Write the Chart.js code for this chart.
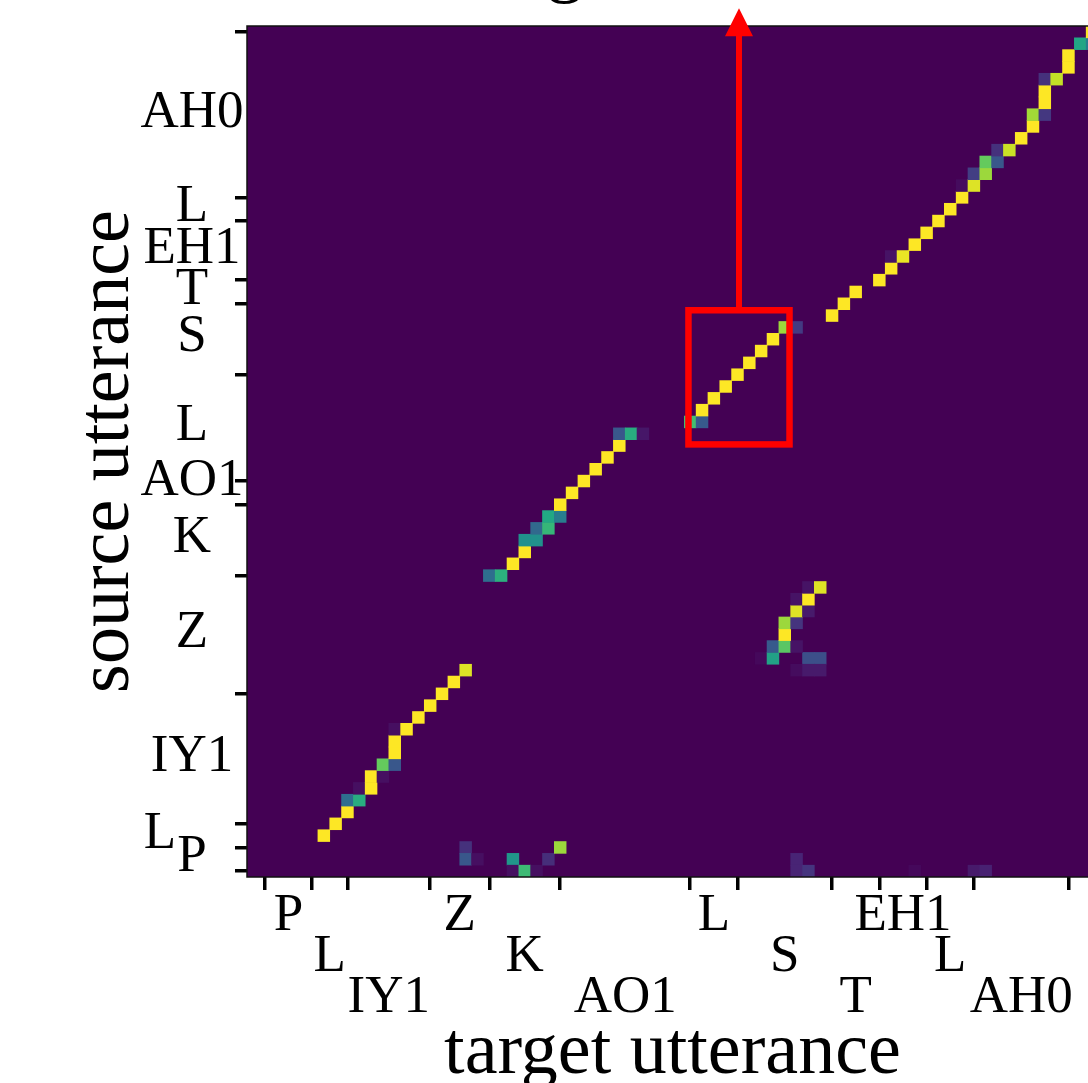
<!DOCTYPE html>
<html>
<head>
<meta charset="utf-8">
<title>source / target alignment</title>
<script src="https://cdn.jsdelivr.net/npm/chart.js@4.4.1/dist/chart.umd.min.js"></script>
<style>
    html, body { margin: 0; padding: 0; background: #fff; overflow: hidden; }
    #wrap { position: relative; width: 1120px; height: 1083px; }
</style>
</head>
<body>
<div id="wrap"><canvas id="alignChart" width="1120" height="1083"></canvas></div>
<script>
// phonemes of both utterances
const phonemes = ['P', 'L', 'IY1', 'Z', 'K', 'AO1', 'L', 'S', 'T', 'EH1', 'L', 'AH0'];

// phoneme boundaries (frame index)
const targetBounds = [1, 5, 8, 15, 20, 26, 37, 41, 49, 53, 57, 61, 69];
const sourceBounds = [0, 2, 4, 15, 25, 31, 33, 42, 48, 50, 55, 57, 71];
const targetFrames = 72;
const sourceFrames = 72;

// non-zero alignment weights: target frame, source frame, weight
const cellTarget = [
    18, 18, 19, 22, 22, 23, 24, 25, 26, 46, 46, 47, 56, 61, 62,            // stray (P)
    6, 7, 8, 8, 9, 9, 10, 10, 11, 11, 12, 12, 12, 12, 13, 14, 15, 16, 17, 18, // L / IY1
    43, 44, 47, 48, 46, 47, 48, 44, 45, 46, 45, 45, 46, 46, 47, 46, 47, 47, 48, // Z
    20, 21, 22, 23, 23, 24, 24, 25, 25, 26, 26, 27, 28, 29, 30, 31, 31, 32, 33, // K / AO1
    37, 38, 38, 39, 40, 41, 42, 43, 44, 45, 46, 49, 50, 51,                  // L / S / T
    53, 54, 54, 55, 56, 57, 58, 59, 60, 60, 61, 61, 62, 62, 63, 63, 64, 65, 66, 66,
    67, 67, 67, 67, 68, 69, 69, 70, 71, 71                                   // EH1 / L / AH0
];
const cellSource = [
    2, 1, 1, 1, 0, 0, 0, 1, 2, 1, 0, 0, 0, 0, 0,
    3, 4, 5, 6, 6, 7, 7, 8, 8, 9, 9, 10, 11, 12, 12, 13, 14, 15, 16, 17,
    18, 18, 18, 18, 17, 17, 17, 19, 19, 19, 20, 21, 21, 22, 22, 23, 23, 24, 24,
    25, 25, 26, 27, 28, 28, 29, 29, 30, 30, 31, 32, 33, 34, 35, 36, 37, 37, 37,
    38, 38, 39, 40, 41, 42, 43, 44, 45, 46, 46, 47, 48, 49,
    50, 51, 52, 52, 53, 54, 55, 56, 57, 58, 58, 59, 59, 60, 60, 61, 61, 62, 63, 64,
    64, 65, 66, 67, 67, 68, 69, 70, 70, 71
];
const cellWeight = [
    0.14, 0.27, 0.04, 0.52, 0.04, 0.68, 0.04, 0.13, 0.85, 0.10, 0.10, 0.15, 0.02, 0.07, 0.09,
    1, 1, 1, 0.36, 0.62, 0.04, 1, 1, 0.04, 0.76, 0.27, 1, 1, 0.04, 1, 1, 1, 1, 1, 0.95,
    0.02, 0.57, 0.24, 0.24, 0.03, 0.07, 0.07, 0.28, 0.74, 0.05, 1, 0.85, 0.15, 0.95, 0.07, 0.05, 1, 0.05, 0.95,
    0.36, 0.63, 1, 1, 0.5, 0.5, 0.34, 0.66, 0.6, 0.42, 1, 1, 1, 1, 1, 1, 0.27, 0.62, 0.06,
    0.7, 0.28, 1, 1, 1, 1, 1, 1, 1, 0.85, 0.17, 1, 1, 1,
    1, 1, 0.05, 0.97, 1, 1, 1, 1, 1, 0.03, 0.95, 0.18, 0.85, 0.76, 0.27, 0.14, 0.92, 1, 1, 0.86,
    0.16, 1, 1, 0.14, 0.91, 1, 1, 0.59, 0.42, 1
];

// highlighted region (frame units) and arrow tip
const boxTarget = [36.85, 45.4];
const boxSource = [36.1, 47.45];
const arrowTipSource = 73.0;

const viridisStops = ['#440154', '#482475', '#414487', '#355f8d', '#2a788e', '#21918c',
    '#22a884', '#44bf70', '#7ad151', '#bddf26', '#fde725'];

function hexToRgb(h) {
    return [1, 3, 5].map(i => parseInt(h.substr(i, 2), 16));
}

function viridis(t) {
    t = Math.max(0, Math.min(1, t));
    const p = t * (viridisStops.length - 1);
    const i = Math.min(Math.floor(p), viridisStops.length - 2);
    const f = p - i;
    const a = hexToRgb(viridisStops[i]);
    const b = hexToRgb(viridisStops[i + 1]);
    const c = a.map((v, k) => Math.round(v + (b[k] - v) * f));
    return `rgb(${c[0]}, ${c[1]}, ${c[2]})`;
}

const SERIF = '"Liberation Serif", "Times New Roman", serif';

// fill the empty part of the matrix with the zero colour, frame it
const heatBackground = {
    id: 'heatBackground',
    beforeDatasetsDraw(chart) {
        const { ctx, chartArea: a } = chart;
        ctx.save();
        ctx.fillStyle = viridis(0);
        ctx.fillRect(a.left, a.top, a.right - a.left, a.bottom - a.top);
        ctx.restore();
    },
    afterDatasetsDraw(chart) {
        const { ctx, chartArea: a } = chart;
        ctx.save();
        ctx.strokeStyle = '#111';
        ctx.lineWidth = 1.5;
        ctx.strokeRect(a.left, a.top, a.right - a.left, a.bottom - a.top);
        ctx.restore();
    }
};

// phoneme labels between the boundary ticks, axis titles
const phonemeText = {
    id: 'phonemeText',
    afterDraw(chart) {
        const { ctx, chartArea: a } = chart;
        const x = chart.scales.x;
        const y = chart.scales.y;
        ctx.save();
        ctx.fillStyle = '#000';
        ctx.textAlign = 'center';
        ctx.textBaseline = 'alphabetic';
        ctx.font = '53px ' + SERIF;

        // target labels, staggered on three rows
        phonemes.forEach((p, i) => {
            const xc = x.getPixelForValue((targetBounds[i] + targetBounds[i + 1]) / 2);
            ctx.fillText(p, xc, a.bottom + 53 + (i % 3) * 41);
        });

        // source labels
        const nudge = { 1: [-32, 0], 5: [0, -10] };
        phonemes.forEach((p, i) => {
            const yc = y.getPixelForValue((sourceBounds[i] + sourceBounds[i + 1]) / 2);
            const d = nudge[i] || [0, 0];
            ctx.fillText(p, a.left - 55 + d[0], yc + 12 + d[1]);
        });

        // axis titles
        ctx.font = '74px ' + SERIF;
        ctx.fillText('target utterance', (a.left + a.right) / 2, 1073);
        ctx.save();
        ctx.translate(128, (a.top + a.bottom) / 2);
        ctx.rotate(-Math.PI / 2);
        ctx.fillText('source utterance', 0, 0);
        ctx.restore();

        // figure title, mostly above the visible area
        ctx.textAlign = 'left';
        const head = ctx.measureText('ali').width;
        const gW = ctx.measureText('g').width;
        ctx.fillText('alignment', 565 - head - gW / 2, -12);
        ctx.restore();
    }
};

// red box around the L/S segment with an arrow going up
const redBox = {
    id: 'redBox',
    afterDraw(chart) {
        const { ctx } = chart;
        const x = chart.scales.x;
        const y = chart.scales.y;
        const x0 = x.getPixelForValue(boxTarget[0]);
        const x1 = x.getPixelForValue(boxTarget[1]);
        const yTop = y.getPixelForValue(boxSource[1]);
        const yBot = y.getPixelForValue(boxSource[0]);
        const xm = (x0 + x1) / 2;
        const yTip = y.getPixelForValue(arrowTipSource);
        ctx.save();
        ctx.strokeStyle = '#ff0000';
        ctx.fillStyle = '#ff0000';
        ctx.lineWidth = 6.5;
        ctx.strokeRect(x0, yTop, x1 - x0, yBot - yTop);
        ctx.lineWidth = 6;
        ctx.beginPath();
        ctx.moveTo(xm, yTop);
        ctx.lineTo(xm, yTip + 26);
        ctx.stroke();
        ctx.beginPath();
        ctx.moveTo(xm, yTip);
        ctx.lineTo(xm - 14, yTip + 28);
        ctx.lineTo(xm + 14, yTip + 28);
        ctx.closePath();
        ctx.fill();
        ctx.restore();
    }
};

const tickGrid = {
    display: true,
    drawOnChartArea: false,
    drawTicks: true,
    offset: false,
    lineWidth: 3.5,
    color: '#000'
};

new Chart(document.getElementById('alignChart'), {
    type: 'bar',
    data: {
        datasets: [{
            data: cellTarget.map((t, i) => ({ x: t, y: [cellSource[i] - 0.5, cellSource[i] + 0.5] })),
            backgroundColor: cellWeight.map(viridis),
            borderWidth: 0,
            barPercentage: 1,
            categoryPercentage: 1
        }]
    },
    options: {
        responsive: false,
        animation: false,
        events: [],
        layout: { padding: { top: 26, right: 22, left: 0, bottom: 0 } },
        plugins: {
            legend: { display: false },
            tooltip: { enabled: false },
            title: { display: false }
        },
        scales: {
            x: {
                type: 'linear',
                position: 'bottom',
                offset: false,
                min: -0.5,
                max: targetFrames - 0.5,
                afterBuildTicks: s => { s.ticks = targetBounds.map(v => ({ value: v })); },
                afterFit: s => { s.height = 206; },
                ticks: { display: false, autoSkip: false },
                grid: { ...tickGrid, tickLength: 13 },
                border: { display: false }
            },
            y: {
                type: 'linear',
                position: 'left',
                offset: false,
                min: -0.5,
                max: sourceFrames - 0.5,
                afterBuildTicks: s => { s.ticks = sourceBounds.map(v => ({ value: v })); },
                afterFit: s => { s.width = 247; },
                ticks: { display: false, autoSkip: false },
                grid: { ...tickGrid, tickLength: 12 },
                border: { display: false }
            }
        }
    },
    plugins: [heatBackground, phonemeText, redBox]
});
</script>
</body>
</html>
